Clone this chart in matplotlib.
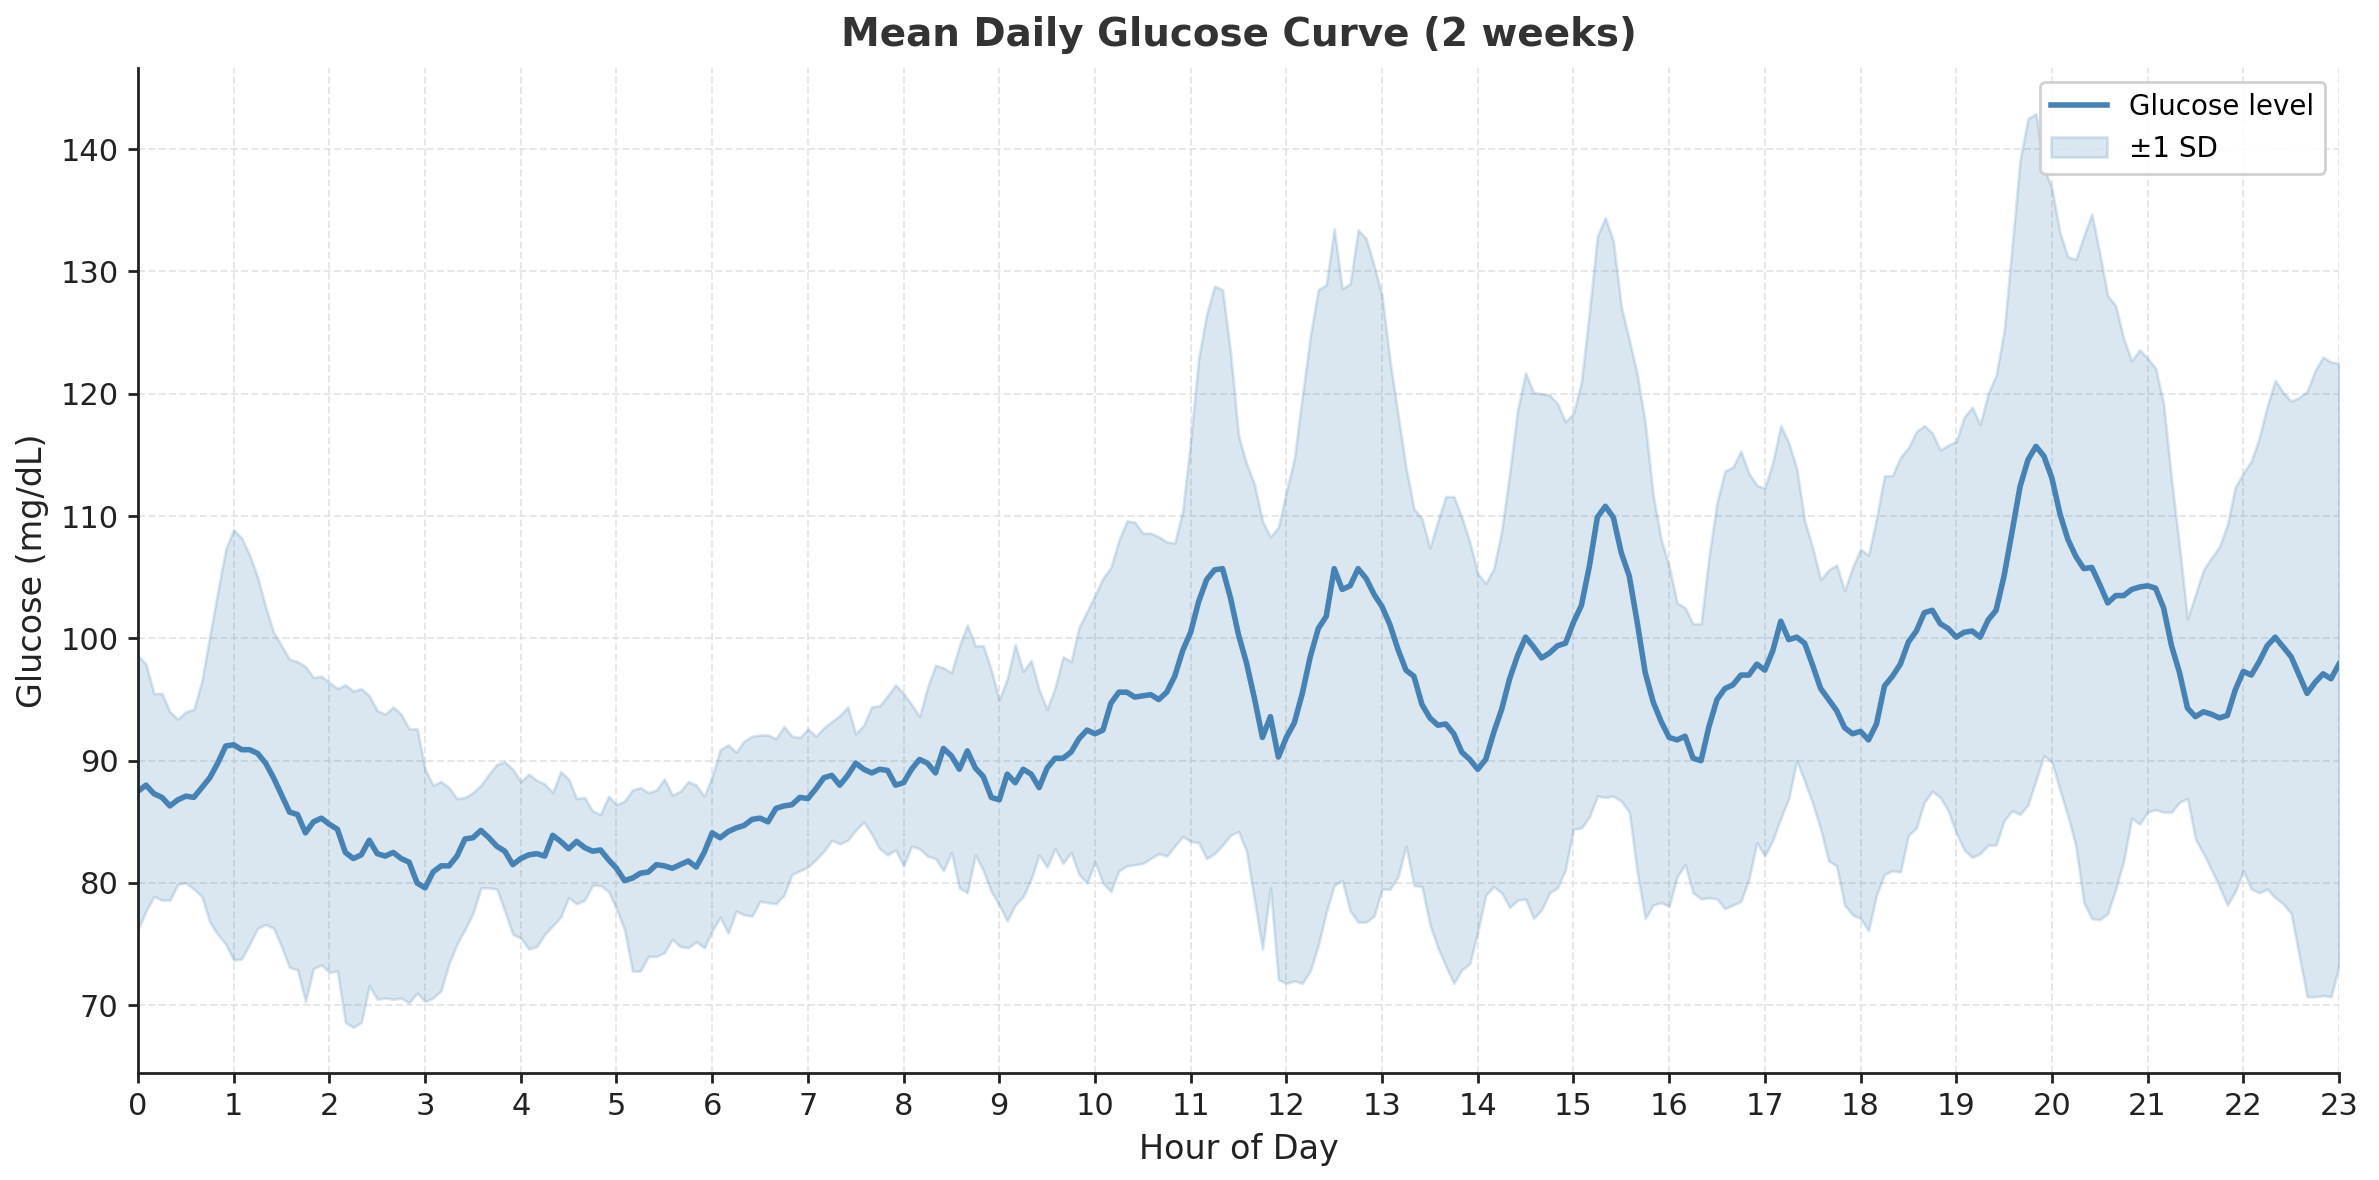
import numpy as np
import matplotlib
matplotlib.use("Agg")
import matplotlib.pyplot as plt

# 5-minute samples, 0:00 -> 23:00 (12 per hour + final point)
glucose_mean = [
    87.5, 88.0, 87.3, 87.0, 86.3, 86.8, 87.1, 87.0, 87.8, 88.6, 89.8, 91.2,
    91.3, 90.9, 90.9, 90.6, 89.8, 88.6, 87.2, 85.8, 85.6, 84.1, 85.0, 85.3,
    84.8, 84.4, 82.5, 82.0, 82.3, 83.5, 82.4, 82.2, 82.5, 82.0, 81.7, 80.0,
    79.6, 80.9, 81.4, 81.4, 82.2, 83.6, 83.7, 84.3, 83.7, 83.0, 82.6, 81.5,
    82.0, 82.3, 82.4, 82.2, 83.9, 83.4, 82.8, 83.4, 82.9, 82.6, 82.7, 81.9,
    81.2, 80.2, 80.4, 80.8, 80.9, 81.5, 81.4, 81.2, 81.5, 81.8, 81.3, 82.5,
    84.1, 83.7, 84.2, 84.5, 84.7, 85.2, 85.3, 85.0, 86.1, 86.3, 86.4, 87.0,
    86.9, 87.7, 88.6, 88.8, 88.0, 88.8, 89.8, 89.3, 89.0, 89.3, 89.2, 88.0,
    88.2, 89.3, 90.1, 89.8, 89.0, 91.0, 90.4, 89.3, 90.8, 89.4, 88.7, 87.0,
    86.8, 88.9, 88.2, 89.3, 88.9, 87.8, 89.4, 90.2, 90.2, 90.7, 91.8, 92.5,
    92.2, 92.5, 94.7, 95.6, 95.6, 95.2, 95.3, 95.4, 95.0, 95.6, 96.9, 99.0,
    100.5, 103.0, 104.8, 105.6, 105.7, 103.3, 100.3, 98.0, 95.1, 91.9, 93.6, 90.3,
    91.9, 93.1, 95.5, 98.5, 100.8, 101.8, 105.7, 104.0, 104.3, 105.7, 104.9, 103.6,
    102.6, 101.1, 99.1, 97.4, 96.9, 94.6, 93.5, 92.9, 93.0, 92.2, 90.7, 90.1,
    89.3, 90.1, 92.3, 94.2, 96.7, 98.6, 100.1, 99.3, 98.4, 98.8, 99.4, 99.6,
    101.3, 102.7, 105.9, 109.9, 110.8, 109.9, 107.0, 105.1, 101.3, 97.2, 94.8, 93.2,
    91.9, 91.7, 92.0, 90.2, 90.0, 92.8, 95.0, 95.9, 96.2, 97.0, 97.0, 97.9,
    97.4, 99.0, 101.4, 99.9, 100.1, 99.6, 97.8, 95.9, 95.0, 94.1, 92.7, 92.2,
    92.4, 91.7, 93.0, 96.1, 96.9, 97.9, 99.7, 100.6, 102.1, 102.3, 101.2, 100.8,
    100.1, 100.5, 100.6, 100.1, 101.5, 102.3, 105.1, 108.7, 112.4, 114.6, 115.7, 114.9,
    113.1, 110.2, 108.1, 106.7, 105.7, 105.8, 104.4, 102.9, 103.5, 103.5, 104.0, 104.2,
    104.3, 104.1, 102.5, 99.4, 97.2, 94.3, 93.6, 94.0, 93.8, 93.5, 93.7, 95.8,
    97.3, 97.0, 98.1, 99.4, 100.1, 99.3, 98.5, 97.0, 95.5, 96.4, 97.1, 96.7,
    97.9,
]

sd_upper = [
    98.6, 97.9, 95.5, 95.5, 94.0, 93.4, 94.0, 94.2, 96.5, 100.2, 103.8, 107.3,
    108.9, 108.2, 106.8, 105.0, 102.6, 100.5, 99.4, 98.3, 98.1, 97.7, 96.8, 96.9,
    96.4, 95.9, 96.2, 95.7, 95.9, 95.3, 94.1, 93.8, 94.4, 93.8, 92.6, 92.6,
    89.3, 88.0, 88.3, 87.8, 86.9, 87.0, 87.4, 88.0, 88.9, 89.7, 89.9, 89.3,
    88.3, 88.9, 88.4, 88.1, 87.4, 89.1, 88.5, 86.9, 87.0, 85.9, 85.6, 87.1,
    86.4, 86.7, 87.6, 87.8, 87.4, 87.6, 88.5, 87.2, 87.5, 88.3, 88.0, 87.1,
    88.7, 90.9, 91.3, 90.7, 91.6, 92.0, 92.1, 92.1, 91.8, 92.8, 92.0, 91.9,
    92.6, 92.0, 92.7, 93.2, 93.7, 94.4, 92.2, 92.9, 94.4, 94.5, 95.3, 96.2,
    95.5, 94.6, 93.6, 96.0, 97.8, 97.6, 97.2, 99.4, 101.1, 99.4, 99.4, 97.4,
    95.0, 96.7, 99.5, 97.3, 98.2, 95.8, 94.2, 96.0, 98.5, 98.1, 100.9, 102.2,
    103.5, 104.9, 105.8, 108.0, 109.6, 109.5, 108.6, 108.6, 108.3, 107.9, 107.8, 110.4,
    116.2, 122.9, 126.5, 128.8, 128.5, 123.4, 116.6, 114.3, 112.6, 109.6, 108.3, 109.1,
    112.0, 114.7, 119.8, 124.7, 128.5, 128.9, 133.5, 128.6, 129.0, 133.4, 132.7, 130.5,
    128.0, 122.7, 118.3, 114.0, 110.6, 109.8, 107.4, 109.6, 111.6, 111.6, 109.9, 107.9,
    105.3, 104.5, 105.7, 108.8, 113.5, 118.7, 121.7, 120.1, 120.0, 119.9, 119.2, 117.7,
    118.4, 121.0, 126.7, 132.9, 134.4, 132.5, 127.1, 124.4, 121.6, 117.6, 111.7, 108.1,
    105.9, 102.9, 102.5, 101.2, 101.2, 106.7, 111.1, 113.7, 114.0, 115.3, 113.5, 112.5,
    112.3, 114.4, 117.4, 116.0, 113.9, 109.6, 107.4, 104.8, 105.6, 106.0, 103.9, 105.8,
    107.3, 106.8, 109.8, 113.3, 113.3, 114.8, 115.6, 116.9, 117.4, 116.8, 115.4, 115.8,
    116.1, 118.1, 118.9, 117.5, 120.0, 121.5, 125.1, 132.0, 139.1, 142.5, 142.9, 138.5,
    136.8, 133.2, 131.2, 131.0, 132.9, 134.7, 131.5, 128.0, 127.2, 124.5, 122.7, 123.6,
    122.9, 122.1, 119.2, 113.0, 107.5, 101.6, 103.6, 105.6, 106.6, 107.5, 109.3, 112.4,
    113.5, 114.5, 116.4, 119.0, 121.1, 120.1, 119.4, 119.7, 120.2, 121.9, 123.0, 122.6,
    122.5,
]

sd_lower = [
    76.2, 77.7, 78.9, 78.6, 78.6, 79.9, 80.0, 79.5, 78.9, 76.8, 75.8, 75.0,
    73.7, 73.8, 75.0, 76.3, 76.6, 76.3, 74.8, 73.1, 72.9, 70.3, 73.0, 73.3,
    72.7, 72.8, 68.6, 68.2, 68.6, 71.6, 70.5, 70.6, 70.5, 70.6, 70.2, 71.0,
    70.3, 70.6, 71.2, 73.4, 75.0, 76.2, 77.5, 79.6, 79.6, 79.5, 77.7, 75.8,
    75.5, 74.6, 74.8, 75.8, 76.5, 77.2, 78.8, 78.3, 78.6, 79.8, 79.8, 79.3,
    77.9, 76.2, 72.8, 72.8, 74.0, 74.0, 74.3, 75.4, 74.8, 74.7, 75.2, 74.7,
    76.1, 77.2, 75.9, 77.7, 77.4, 77.3, 78.5, 78.4, 78.3, 79.0, 80.7, 81.0,
    81.3, 81.9, 82.6, 83.5, 83.2, 83.5, 84.3, 85.0, 84.0, 82.8, 82.3, 82.7,
    81.4, 83.0, 82.8, 82.2, 82.0, 81.0, 82.5, 79.6, 79.2, 82.3, 81.0, 79.3,
    78.2, 76.9, 78.2, 78.9, 80.3, 82.3, 81.3, 82.8, 81.6, 82.5, 80.7, 80.0,
    81.7, 80.0, 79.3, 81.0, 81.4, 81.5, 81.6, 82.0, 82.4, 82.2, 83.0, 83.8,
    83.4, 83.3, 82.0, 82.4, 83.1, 83.9, 84.2, 82.6, 78.6, 74.6, 79.6, 72.1,
    71.8, 72.0, 71.8, 72.8, 74.9, 77.6, 79.8, 80.2, 77.7, 76.8, 76.8, 77.3,
    79.5, 79.5, 80.5, 83.0, 79.8, 79.7, 76.6, 74.7, 73.2, 71.8, 72.9, 73.4,
    76.0, 79.0, 79.7, 79.2, 78.0, 78.6, 78.7, 77.1, 77.8, 79.2, 79.6, 81.1,
    84.4, 84.5, 85.4, 87.1, 87.0, 87.1, 86.7, 85.8, 80.9, 77.1, 78.2, 78.4,
    78.1, 80.5, 81.5, 79.2, 78.7, 78.8, 78.7, 77.9, 78.2, 78.5, 80.3, 83.3,
    82.2, 83.5, 85.3, 86.9, 90.0, 88.3, 86.5, 84.4, 81.8, 81.4, 78.2, 77.4,
    77.1, 76.1, 79.0, 80.7, 81.0, 80.9, 83.9, 84.5, 86.6, 87.5, 87.0, 85.9,
    84.1, 82.7, 82.1, 82.4, 83.1, 83.1, 85.1, 85.9, 85.6, 86.4, 88.4, 90.4,
    89.9, 87.6, 85.5, 83.0, 78.4, 77.1, 77.0, 77.5, 79.5, 81.8, 85.3, 84.8,
    85.8, 86.0, 85.8, 85.8, 86.6, 86.9, 83.6, 82.4, 81.1, 79.7, 78.2, 79.3,
    81.0, 79.5, 79.2, 79.5, 78.8, 78.3, 77.5, 74.1, 70.7, 70.7, 70.8, 70.7,
    73.2,
]

hours = np.arange(len(glucose_mean)) / 12.0
hour_ticks = list(range(0, 24))

color = "steelblue"
DPI = 200

fig = plt.figure(figsize=(2379 / DPI, 1180 / DPI), dpi=DPI)
ax = fig.add_axes([138 / 2379, 1 - 1073 / 1180, (2339 - 138) / 2379, (1073 - 68) / 1180])

ax.fill_between(hours, sd_lower, sd_upper, color=color, alpha=0.2, label="±1 SD")
ax.plot(hours, glucose_mean, color=color, lw=2, label="Glucose level")

ax.set_xlim(0, 23)
ax.set_xticks(hour_ticks)
ax.set_yticks(range(70, 141, 10))
ax.tick_params(labelsize=11, colors="#222222", width=1)
ax.set_xlabel("Hour of Day", fontsize=12, color="#222222")
ax.set_ylabel("Glucose (mg/dL)", fontsize=12, color="#222222")
ax.set_title("Mean Daily Glucose Curve (2 weeks)", fontsize=14, fontweight="bold",
             color="#333333", pad=8)

ax.grid(True, linestyle="--", color="#dddddd", alpha=0.7, lw=0.7)
ax.set_axisbelow(True)
for s in ["top", "right"]:
    ax.spines[s].set_visible(False)
for s in ["left", "bottom"]:
    ax.spines[s].set_color("#222222")
    ax.spines[s].set_linewidth(1.0)

handles, labels = ax.get_legend_handles_labels()
ax.legend(handles[::-1], labels[::-1], loc="upper right", fontsize=10, framealpha=0.9)

fig.savefig("out.png", dpi=DPI)
